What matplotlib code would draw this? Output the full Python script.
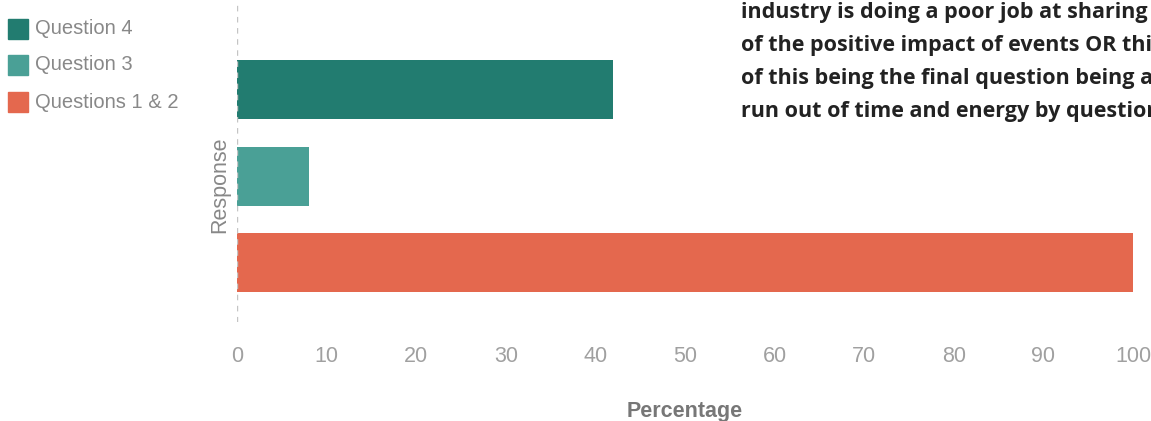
import matplotlib
matplotlib.use("Agg")
import matplotlib.pyplot as plt
from matplotlib.patches import Rectangle

categories = ["Questions 1 & 2", "Question 3", "Question 4"]
values = [100, 8, 42]
colors = ["#e4684e", "#4aa096", "#227c70"]
xticks = [0, 10, 20, 30, 40, 50, 60, 70, 80, 90, 100]
note_lines = [
    "industry is doing a poor job at sharing",
    "of the positive impact of events OR thi",
    "of this being the final question being a",
    "run out of time and energy by questior",
]

W, H = 1151, 421
fig = plt.figure(figsize=(W / 100, H / 100), dpi=100)

def px_axes(l, t, r, b):
    return [l / W, 1 - b / H, (r - l) / W, (b - t) / H]

ax = fig.add_axes(px_axes(237, 0, 1133, 322))
pos = [0, 1, 2]
ax.barh(pos, values, height=0.68, color=colors)
ax.set_xlim(0, 100)
ax.set_ylim(-0.68, 3.03)
ax.axvline(0, color="#c4c4c4", linestyle=(0, (4, 4)), linewidth=1)
for s in ax.spines.values():
    s.set_visible(False)
ax.set_yticks([])
ax.set_xticks(xticks)
ax.tick_params(axis="x", length=0, pad=17, labelsize=15.5, labelcolor="#a0a0a0")
for lab in ax.get_xticklabels():
    lab.set_fontfamily("Liberation Sans")
ax.set_xlabel("Percentage", fontsize=15.5, color="#777777", fontweight="bold",
              family="Liberation Sans", labelpad=25)
ax.set_ylabel("Response", fontsize=15.5, color="#888888", family="Liberation Sans",
              labelpad=4)
ax.yaxis.set_label_coords(-0.008, 0.425)

# legend
leg_items = list(zip(categories, colors))[::-1]
rows_y = [29, 65, 102]
for (name, col), yy in zip(leg_items, rows_y):
    fig.patches.append(Rectangle((8 / W, 1 - (yy + 10) / H), 20 / W, 20 / H,
                                 transform=fig.transFigure, color=col))
    fig.text(35 / W, 1 - yy / H, name, fontsize=14.5, color="#888888",
             family="Liberation Sans", va="center", ha="left")

# note text (cropped at right edge as in the source)
for i, line in enumerate(note_lines):
    fig.text(741 / W, 1 - (18 + i * 33) / H, line, fontsize=15.5,
             fontweight="bold", color="#222222", family="Open Sans",
             va="baseline", ha="left")

fig.savefig("out.png", dpi=100)
